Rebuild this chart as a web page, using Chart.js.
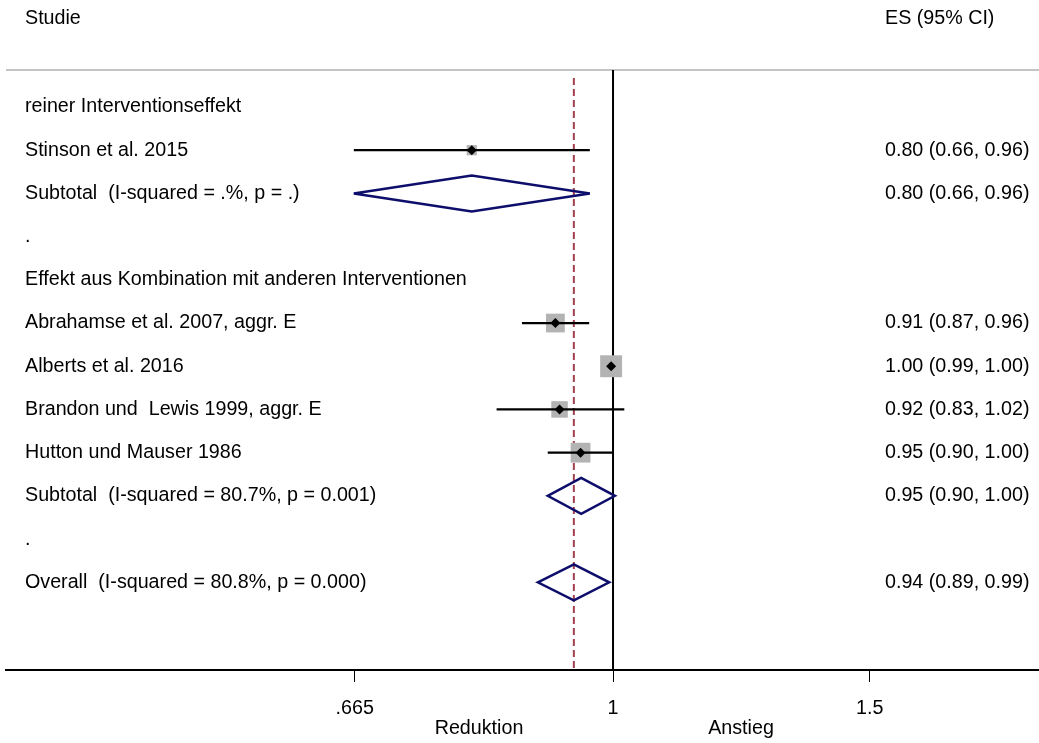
<!DOCTYPE html>
<html>
<head>
<meta charset="utf-8">
<script src="https://cdn.jsdelivr.net/npm/chart.js@4.4.0/dist/chart.umd.min.js"></script>
<style>
  html, body { margin: 0; padding: 0; background: #fff; }
  #wrap { width: 1039px; height: 743px; position: relative; }
</style>
</head>
<body>
<div id="wrap"><canvas id="grafica"></canvas></div>
<script>
// Zeilen des Forest-Plots (von oben nach unten)
const rowLabels = [
  'reiner Interventionseffekt',
  'Stinson et al. 2015',
  'Subtotal  (I-squared = .%, p = .)',
  '.',
  'Effekt aus Kombination mit anderen Interventionen',
  'Abrahamse et al. 2007, aggr. E',
  'Alberts et al. 2016',
  'Brandon und  Lewis 1999, aggr. E',
  'Hutton und Mauser 1986',
  'Subtotal  (I-squared = 80.7%, p = 0.001)',
  '.',
  'Overall  (I-squared = 80.8%, p = 0.000)'
];

// Einzelstudien
const studies = ['Stinson et al. 2015', 'Abrahamse et al. 2007, aggr. E', 'Alberts et al. 2016',
                 'Brandon und  Lewis 1999, aggr. E', 'Hutton und Mauser 1986'];
const studyEs = [0.800, 0.913, 0.997, 0.919, 0.950];
const studyLo = [0.664, 0.866, 0.992, 0.832, 0.902];
const studyHi = [0.964, 0.963, 1.002, 1.018, 0.999];
const studyWeight = [6.5, 22.0, 30.0, 17.0, 24.5];

// Gepoolte Schaetzer
const pooled = ['Subtotal  (I-squared = .%, p = .)', 'Subtotal  (I-squared = 80.7%, p = 0.001)',
                'Overall  (I-squared = 80.8%, p = 0.000)'];
const pooledEs = [0.800, 0.951, 0.940];
const pooledLo = [0.664, 0.902, 0.888];
const pooledHi = [0.964, 1.003, 0.994];

const xTicks = [0.665, 1, 1.5];
const xTickLabels = ['.665', '1', '1.5'];
const favourLabels = ['Reduktion', 'Anstieg'];
const headers = ['Studie', 'ES (95% CI)'];

const FONT = '"Liberation Sans", Arial, sans-serif';
const FS = 19.7;
const rowOf = name => rowLabels.indexOf(name) + 1;
const fmt = (e, l, h) => `${e.toFixed(2)} (${l.toFixed(2)}, ${h.toFixed(2)})`;

// 🔹 Linien, Diamanten und Texte
const forestPlugin = {
  id: 'forest',
  beforeDatasetsDraw(chart) {
    const { ctx, chartArea: a, scales: { x } } = chart;
    ctx.save();
    // graue Linie unter der Kopfzeile
    ctx.strokeStyle = '#c4c4c4';
    ctx.lineWidth = 2;
    ctx.beginPath(); ctx.moveTo(a.left, a.top); ctx.lineTo(a.right, a.top); ctx.stroke();
    // Nulleffekt-Linie
    const x1 = x.getPixelForValue(1);
    ctx.strokeStyle = '#000';
    ctx.beginPath(); ctx.moveTo(x1, a.top); ctx.lineTo(x1, a.bottom); ctx.stroke();
    // Overall-Linie gestrichelt
    const xo = x.getPixelForValue(pooledEs[pooledEs.length - 1]);
    ctx.strokeStyle = '#a3404f';
    ctx.setLineDash([7, 4]);
    ctx.beginPath(); ctx.moveTo(xo, a.top + 8); ctx.lineTo(xo, a.bottom); ctx.stroke();
    ctx.restore();
  },
  afterDatasetsDraw(chart) {
    const { ctx, scales: { x, y } } = chart;
    ctx.save();
    ctx.strokeStyle = '#0d0d6b';
    ctx.lineWidth = 2.5;
    ctx.miterLimit = 3;
    pooled.forEach((name, i) => {
      const yc = y.getPixelForValue(rowOf(name));
      const xl = x.getPixelForValue(pooledLo[i]);
      const xc = x.getPixelForValue(pooledEs[i]);
      const xr = x.getPixelForValue(pooledHi[i]);
      ctx.beginPath();
      ctx.moveTo(xl, yc); ctx.lineTo(xc, yc - 18); ctx.lineTo(xr, yc); ctx.lineTo(xc, yc + 18);
      ctx.closePath(); ctx.stroke();
    });
    ctx.restore();
  },
  afterDraw(chart) {
    const { ctx, scales: { x, y } } = chart;
    ctx.save();
    ctx.fillStyle = '#000';
    ctx.font = `${FS}px ${FONT}`;
    ctx.textBaseline = 'middle';
    ctx.textAlign = 'left';
    ctx.fillText(headers[0], 25, 19);
    ctx.fillText(headers[1], 885, 19);
    rowLabels.forEach((t, i) => ctx.fillText(t, 25, y.getPixelForValue(i + 1)));
    studies.forEach((s, i) => ctx.fillText(fmt(studyEs[i], studyLo[i], studyHi[i]), 885, y.getPixelForValue(rowOf(s))));
    pooled.forEach((s, i) => ctx.fillText(fmt(pooledEs[i], pooledLo[i], pooledHi[i]), 885, y.getPixelForValue(rowOf(s))));
    ctx.textAlign = 'center';
    ctx.fillText(favourLabels[0], 479, 729);
    ctx.fillText(favourLabels[1], 741, 729);
    ctx.restore();
  }
};

const ciData = [];
studies.forEach((s, i) => {
  const r = rowOf(s);
  ciData.push({ x: studyLo[i], y: r }, { x: studyHi[i], y: r }, { x: studyHi[i], y: null });
});

new Chart(document.getElementById('grafica'), {
  type: 'scatter',
  data: {
    datasets: [
      { // Punktschaetzer
        data: studies.map((s, i) => ({ x: studyEs[i], y: rowOf(s) })),
        pointStyle: 'rectRot', pointRadius: 5, pointBackgroundColor: '#000', pointBorderWidth: 0
      },
      { // Konfidenzintervalle
        data: ciData, showLine: true, spanGaps: false,
        borderColor: '#000', borderWidth: 2.2, pointRadius: 0
      },
      { // Gewichte
        data: studies.map((s, i) => ({ x: studyEs[i], y: rowOf(s) })),
        pointStyle: 'rect',
        pointRadius: c => 4.0 * Math.sqrt(studyWeight[c.dataIndex]) / Math.SQRT2,
        pointBackgroundColor: '#b3b3b3', pointBorderWidth: 0
      }
    ]
  },
  options: {
    responsive: true,
    maintainAspectRatio: false,
    animation: false,
    layout: { autoPadding: false, padding: { top: 70, left: 6, right: 0, bottom: 0 } },
    plugins: { legend: { display: false }, tooltip: { enabled: false } },
    scales: {
      x: {
        type: 'logarithmic', min: 0.3833, max: 1.960,
        afterBuildTicks: s => { s.ticks = xTicks.map(v => ({ value: v })); },
        afterFit: s => { s.height = 73; s.paddingLeft = 0; s.paddingRight = 0; },
        border: { color: '#000', width: 2 },
        grid: { drawOnChartArea: false, drawTicks: true, tickLength: 12, color: '#000', lineWidth: 1 },
        ticks: {
          font: { family: FONT, size: FS }, color: '#000', padding: 15,
          autoSkip: false, maxRotation: 0,
          callback: (v, i) => xTickLabels[i]
        }
      },
      y: { type: 'linear', reverse: true, min: 0.144, max: 14.03, display: false }
    }
  },
  plugins: [forestPlugin]
});
</script>
</body>
</html>
